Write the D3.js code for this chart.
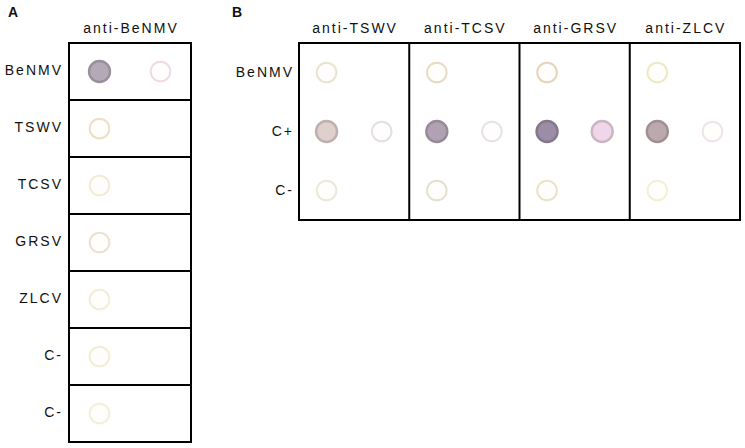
<!DOCTYPE html>
<html>
<head>
<meta charset="utf-8">
<script src="https://cdn.jsdelivr.net/npm/d3@7"></script>
<style>
  body { margin: 0; background: #fff; }
  text { font-family: "Liberation Sans", Arial, sans-serif; fill: #111; }
</style>
</head>
<body>
<svg id="chart" width="745" height="448"></svg>
<script>
// data ===================================================
// panel A: one anti-BeNMV strip, seven samples
var rowsA = ["BeNMV", "TSWV", "TCSV", "GRSV", "ZLCV", "C-", "C- "];
var antibodiesA = ["anti-BeNMV"];
// panel B: four antisera, three samples
var rowsB = ["BeNMV", "C+", "C-"];
var antibodiesB = ["anti-TSWV", "anti-TCSV", "anti-GRSV", "anti-ZLCV"];

// spot signal (0 = no reaction, 1 = strong) and the tint of each spot
var spotsA = [
  { ab: "anti-BeNMV", row: "BeNMV", col: 0, signal: 1, tint: "#b4a9b7" },
  { ab: "anti-BeNMV", row: "BeNMV", col: 1, signal: 0, tint: "#f0dbe5" },
  { ab: "anti-BeNMV", row: "TSWV",  col: 0, signal: 0, tint: "#ebdfc4" },
  { ab: "anti-BeNMV", row: "TCSV",  col: 0, signal: 0, tint: "#f1ecd8" },
  { ab: "anti-BeNMV", row: "GRSV",  col: 0, signal: 0, tint: "#ebe1d2" },
  { ab: "anti-BeNMV", row: "ZLCV",  col: 0, signal: 0, tint: "#f1edd8" },
  { ab: "anti-BeNMV", row: "C-",    col: 0, signal: 0, tint: "#f1eed3" },
  { ab: "anti-BeNMV", row: "C- ",   col: 0, signal: 0, tint: "#f2efda" }
];
var spotsB = [
  { ab: "anti-TSWV", row: "BeNMV", col: 0, signal: 0, tint: "#eae3d2" },
  { ab: "anti-TSWV", row: "C+",    col: 0, signal: 1, tint: "#dfcfcd" },
  { ab: "anti-TSWV", row: "C+",    col: 1, signal: 0, tint: "#e3e0e5" },
  { ab: "anti-TSWV", row: "C-",    col: 0, signal: 0, tint: "#ede9d9" },
  { ab: "anti-TCSV", row: "BeNMV", col: 0, signal: 0, tint: "#e7dcc0" },
  { ab: "anti-TCSV", row: "C+",    col: 0, signal: 1, tint: "#b1a2b3" },
  { ab: "anti-TCSV", row: "C+",    col: 1, signal: 0, tint: "#e7e3e9" },
  { ab: "anti-TCSV", row: "C-",    col: 0, signal: 0, tint: "#e4e1d0" },
  { ab: "anti-GRSV", row: "BeNMV", col: 0, signal: 0, tint: "#e5d5b9" },
  { ab: "anti-GRSV", row: "C+",    col: 0, signal: 1, tint: "#9c8ca5" },
  { ab: "anti-GRSV", row: "C+",    col: 1, signal: 1, tint: "#efd6e8" },
  { ab: "anti-GRSV", row: "C-",    col: 0, signal: 0, tint: "#eae3c8" },
  { ab: "anti-ZLCV", row: "BeNMV", col: 0, signal: 0, tint: "#eeeac0" },
  { ab: "anti-ZLCV", row: "C+",    col: 0, signal: 1, tint: "#bca9ae" },
  { ab: "anti-ZLCV", row: "C+",    col: 1, signal: 0, tint: "#f0e3ea" },
  { ab: "anti-ZLCV", row: "C-",    col: 0, signal: 0, tint: "#f3f1d3" }
];

// layout =================================================
var svg = d3.select("#chart");

var defs = svg.append("defs");
defs.append("filter").attr("id", "soft")
  .attr("x", "-30%").attr("y", "-30%").attr("width", "160%").attr("height", "160%")
  .append("feGaussianBlur").attr("stdDeviation", 0.7);

// draws one blot: boxes, headers, row labels, spots
function drawBlot(opt) {
  var g = svg.append("g");

  var x = d3.scaleBand().domain(opt.antibodies).range([opt.x0, opt.x1]);
  var y = d3.scalePoint().domain(opt.rows).range([opt.y0, opt.y1]).padding(0.5);
  var col = d3.scaleLinear().domain([0, 1]).range([0.25, 0.75]);
  var step = y.step();

  // panel letter
  g.append("text")
    .attr("x", opt.letterX).attr("y", 17)
    .style("font-size", "14px").style("font-weight", "bold")
    .text(opt.letter);

  // antibody headers
  g.selectAll(".hdr").data(opt.antibodies).enter().append("text")
    .attr("class", "hdr")
    .attr("x", function(d) { return x(d) + x.bandwidth() / 2 + 1; })
    .attr("y", 33)
    .attr("text-anchor", "middle")
    .style("font-size", "14px").style("letter-spacing", "2px")
    .text(function(d) { return d; });

  // sample labels
  g.selectAll(".lbl").data(opt.rows).enter().append("text")
    .attr("class", "lbl")
    .attr("x", opt.labelX)
    .attr("y", function(d) { return y(d) + opt.labelDy; })
    .attr("text-anchor", "end")
    .style("font-size", "14px").style("letter-spacing", "2px")
    .text(function(d) { return d.trim(); });

  // spots
  g.selectAll(".spot").data(opt.spots).enter().append("circle")
    .attr("class", "spot")
    .attr("cx", function(d) { return x(d.ab) + x.bandwidth() * col(d.col); })
    .attr("cy", function(d) { return y(d.row); })
    .attr("r", function(d) { return d.signal > 0 ? 10.5 : 9.8; })
    .attr("fill", function(d) {
      return d3.interpolateRgb("#fffefc", d.tint)(d.signal);
    })
    .attr("stroke", function(d) {
      return d.signal > 0 ? d3.color(d.tint).darker(0.45) : d.tint;
    })
    .attr("stroke-width", function(d) { return d.signal > 0 ? 2.4 : 2; })
    .attr("filter", "url(#soft)");

  // row separators (panel A) or column separators (panel B)
  if (opt.rowLines) {
    g.selectAll(".rl").data(opt.rows.slice(1)).enter().append("line")
      .attr("x1", opt.x0).attr("x2", opt.x1)
      .attr("y1", function(d) { return y(d) - step / 2; })
      .attr("y2", function(d) { return y(d) - step / 2; })
      .attr("stroke", "#000").attr("stroke-width", 2);
  }
  g.selectAll(".cl").data(opt.antibodies.slice(1)).enter().append("line")
    .attr("x1", function(d) { return x(d); })
    .attr("x2", function(d) { return x(d); })
    .attr("y1", opt.y0).attr("y2", opt.y1)
    .attr("stroke", "#000").attr("stroke-width", 2);

  g.append("rect")
    .attr("x", opt.x0).attr("y", opt.y0)
    .attr("width", opt.x1 - opt.x0).attr("height", opt.y1 - opt.y0)
    .attr("fill", "none").attr("stroke", "#000").attr("stroke-width", 2);
}

drawBlot({
  letter: "A", letterX: 8,
  antibodies: antibodiesA, rows: rowsA, spots: spotsA,
  x0: 69, x1: 191, y0: 43, y1: 442,
  labelX: 63, labelDy: 3, rowLines: true
});

drawBlot({
  letter: "B", letterX: 232,
  antibodies: antibodiesB, rows: rowsB, spots: spotsB,
  x0: 299, x1: 740, y0: 43, y1: 220,
  labelX: 294, labelDy: 4, rowLines: false
});
</script>
</body>
</html>
